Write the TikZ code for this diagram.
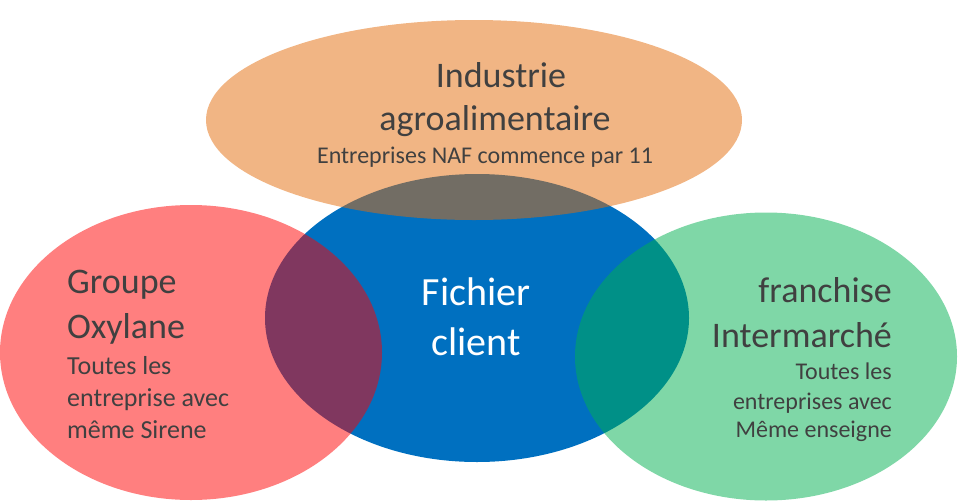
\documentclass[tikz,border=0pt]{standalone}
\usepackage{fontspec}
\setmainfont{Carlito}
\definecolor{txtgray}{HTML}{404040}
\definecolor{cblue}{HTML}{0070C0}
\definecolor{corange}{HTML}{E46C0A}
\definecolor{cred}{HTML}{FF0000}
\definecolor{cgreen}{HTML}{00B050}
\begin{document}
\begin{tikzpicture}[x=1pt,y=-1pt,
  big/.style={text=txtgray,inner sep=0pt,font=\fontsize{36}{43}\selectfont},
  small/.style={text=txtgray,inner sep=0pt,font=\fontsize{24}{29}\selectfont},
  smallL/.style={text=txtgray,inner sep=0pt,font=\fontsize{26}{32}\selectfont},
  central/.style={text=white,inner sep=0pt,font=\fontsize{40}{49}\selectfont},
  setshape/.style={draw=none,fill opacity=0.5}]
\useasboundingbox (0,0) rectangle (958,501);
% ellipses
\fill[cblue] (477,318) ellipse [x radius=212, y radius=144];
\fill[corange,setshape] (474,120) ellipse [x radius=268, y radius=100];
\fill[cred,setshape] (191,352.5) ellipse [x radius=191, y radius=147.5];
\fill[cgreen,setshape] (766,356.5) ellipse [x radius=191, y radius=144];
% top texts
\node[big,anchor=base] (t1) at (501,87) {Industrie};
\node[big,anchor=base] (t2) at (495,130) {agroalimentaire};
\node[small,anchor=base] (t3) at (485,163) {Entreprises NAF commence par 11};
% center
\node[central,anchor=base] (c1) at (476,305) {Fichier};
\node[central,anchor=base] (c2) at (476,355) {client};
% left
\node[big,anchor=base west] (l1) at (67,293) {Groupe};
\node[big,anchor=base west] (l2) at (67,338) {Oxylane};
\node[smallL,anchor=base west] (l3) at (67,374) {Toutes les};
\node[smallL,anchor=base west] (l4) at (67,406) {entreprise avec};
\node[smallL,anchor=base west] (l5) at (67,438) {même Sirene};
% right
\node[big,anchor=base east] (r1) at (892,302) {franchise};
\node[big,anchor=base east] (r2) at (892,347) {Intermarché};
\node[small,anchor=base east] (r3) at (892,379) {Toutes les};
\node[small,anchor=base east] (r4) at (892,409) {entreprises avec};
\node[small,anchor=base east] (r5) at (892,437) {Même enseigne};
\end{tikzpicture}
\end{document}
